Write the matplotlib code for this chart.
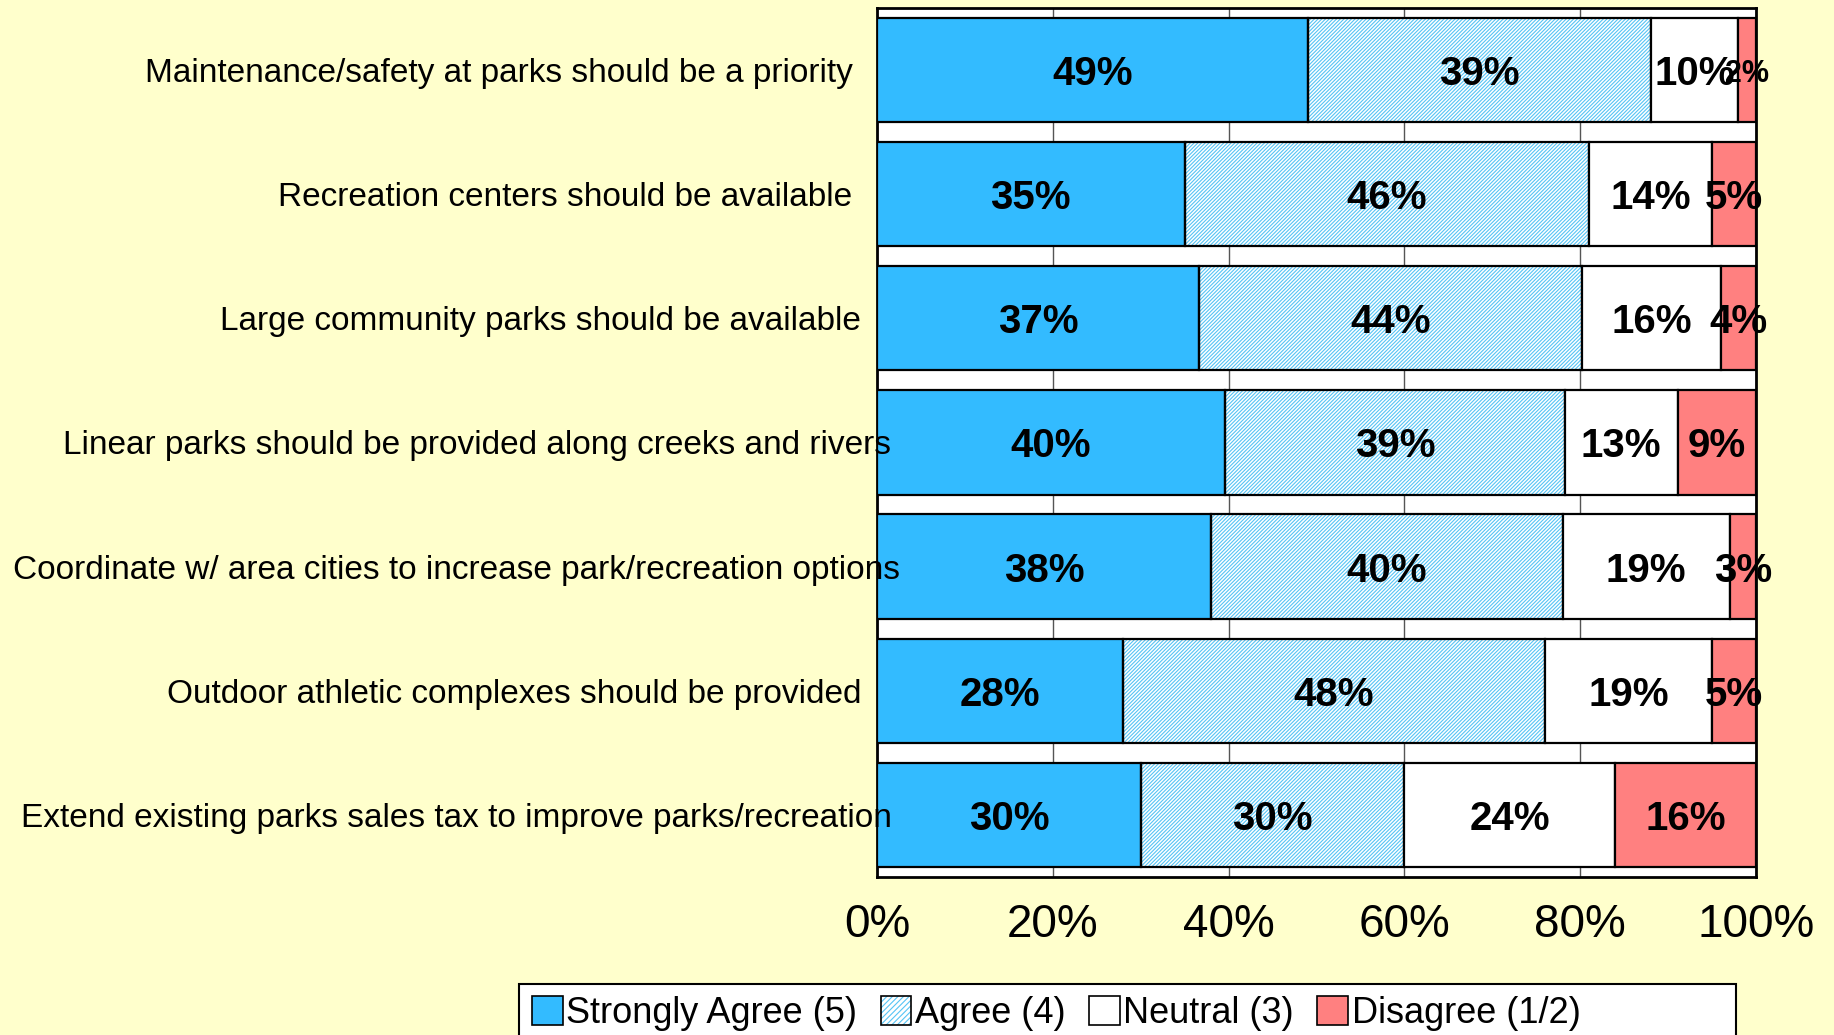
import numpy as np
import matplotlib
matplotlib.use('Agg')
import matplotlib.pyplot as plt
from matplotlib.patches import Patch, Rectangle
from matplotlib.legend_handler import HandlerTuple
from matplotlib.transforms import blended_transform_factory

plt.rcParams['font.family'] = ['Liberation Sans', 'DejaVu Sans']
plt.rcParams['hatch.linewidth'] = 0.8

# Survey data (percent)
statements = ['Maintenance/safety at parks should be a priority',
              'Recreation centers should be available',
              'Large community parks should be available',
              'Linear parks should be provided along creeks and rivers',
              'Coordinate w/ area cities to increase park/recreation options',
              'Outdoor athletic complexes should be provided',
              'Extend existing parks sales tax to improve parks/recreation']
strongly_agree = [49, 35, 37, 40, 38, 28, 30]
agree = [39, 46, 44, 39, 40, 48, 30]
neutral = [10, 14, 16, 13, 19, 19, 24]
disagree = [2, 5, 4, 9, 3, 5, 16]
series_names = ['Strongly Agree (5)', 'Agree (4)', 'Neutral (3)', 'Disagree (1/2)']
xticks = [0, 20, 40, 60, 80, 100]

# label centres in figure fraction (as placed in the original)
label_x = [0.2723, 0.3080, 0.2946, 0.2602, 0.2487, 0.2806, 0.2487]

blue = '#33BBFF'
hatch_blue = '#55C4F5'
red = '#FF8080'
bg = '#FFFFCC'
agree_hatch = '/' * 9

vals = np.array([strongly_agree, agree, neutral, disagree], dtype=float)
pct = vals / vals.sum(axis=0) * 100
y = np.arange(len(statements))
h = 0.84

fig = plt.figure(figsize=(18.34, 10.35), dpi=100, facecolor=bg)
ax = fig.add_axes([0.4782, 0.1527, 0.4793, 0.8396])
ax.set_facecolor('white')

left = np.zeros(len(statements))
fills = [blue, 'white', 'white', red]
for k in range(4):
    if k == 1:
        ax.barh(y, pct[k], left=left, height=h, color='white',
                edgecolor=hatch_blue, hatch=agree_hatch, lw=0, zorder=2)
        ax.barh(y, pct[k], left=left, height=h, fill=False,
                edgecolor='black', lw=1.6, zorder=3)
    else:
        ax.barh(y, pct[k], left=left, height=h, color=fills[k],
                edgecolor='black', lw=1.6, zorder=3)
    for i in range(len(statements)):
        v = vals[k, i]
        fs = 22 if v <= 2 else 29
        ax.text(left[i] + pct[k, i] / 2, y[i], '%d%%' % v, ha='center',
                va='center_baseline', fontsize=fs, fontweight='bold', zorder=5)
    left += pct[k]

ax.set_xlim(0, 100)
ax.set_ylim(len(statements) - 0.5, -0.5)
ax.set_xticks(xticks)
ax.set_xticklabels(['%d%%' % t for t in xticks], fontsize=33)
ax.tick_params(axis='x', length=0, pad=19)
ax.set_yticks([])
ax.grid(axis='x', color='#555555', lw=1.0, zorder=0)
ax.set_axisbelow(True)
for s in ax.spines.values():
    s.set_linewidth(2)
    s.set_color('black')

# category labels sit on top, long ones run into the plot area
trans = blended_transform_factory(fig.transFigure, ax.transData)
for i, s in enumerate(statements):
    ax.text(label_x[i], y[i], s, transform=trans, ha='center',
            va='center_baseline', fontsize=24, clip_on=False, zorder=6)

# legend box (white, runs off the bottom edge)
fig.patches.append(Rectangle((0.2832, -0.05), 0.6635, 0.0993,
                             transform=fig.transFigure, facecolor='white',
                             edgecolor='black', lw=1.5, zorder=0))
handles = [Patch(facecolor=blue, edgecolor='black', lw=1.2),
           (Patch(facecolor='white', edgecolor=hatch_blue, hatch='/' * 6, lw=0),
            Patch(fill=False, edgecolor='black', lw=1.2)),
           Patch(facecolor='white', edgecolor='black', lw=1.2),
           Patch(facecolor=red, edgecolor='black', lw=1.2)]
leg = fig.legend(handles, series_names, loc='center left',
                 bbox_to_anchor=(0.2900, 0.0205), ncol=4, fontsize=26,
                 frameon=False, handlelength=0.85, handleheight=0.85,
                 handletextpad=0.1, columnspacing=0.65,
                 borderpad=0, borderaxespad=0,
                 handler_map={tuple: HandlerTuple(ndivide=1, pad=0)})

fig.savefig('out.png', dpi=100, facecolor=bg)
